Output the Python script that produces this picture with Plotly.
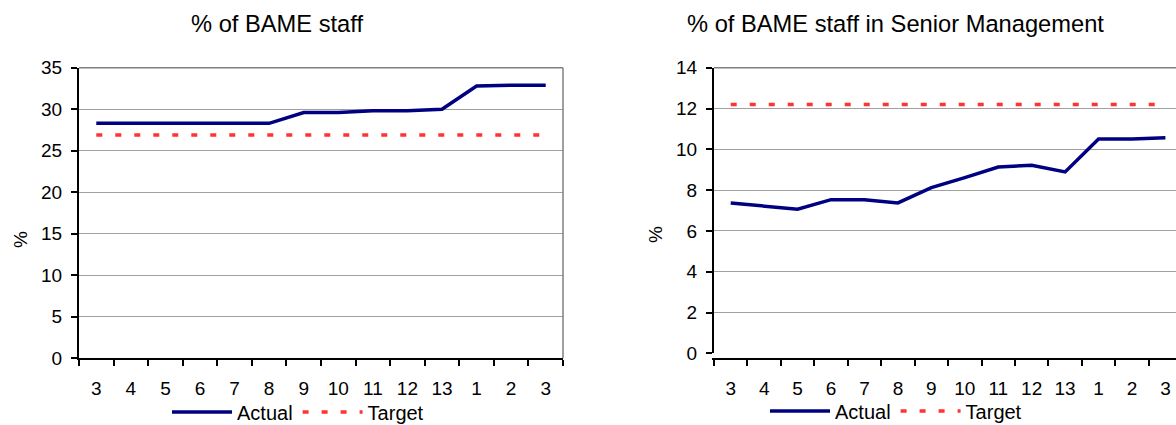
import plotly.graph_objects as go

# ---- data ----
periods = ["3", "4", "5", "6", "7", "8", "9", "10", "11", "12", "13", "1", "2", "3"]
bame_actual = [28.3, 28.3, 28.3, 28.3, 28.3, 28.3, 29.6, 29.6, 29.8, 29.8, 30.0, 32.8, 32.9, 32.9]
bame_target = [26.9] * 14
senior_actual = [7.37, 7.22, 7.06, 7.53, 7.53, 7.37, 8.12, 8.61, 9.13, 9.22, 8.89, 10.5, 10.5, 10.57]
senior_target = [12.2] * 14

title_left = "% of BAME staff"
title_right = "% of BAME staff in Senior Management"

W, H = 1176, 425
FONT = "Liberation Sans, Arial, sans-serif"
NAVY = "#000080"
RED = "#ff3333"

idx = list(range(len(periods)))
bounds = [i - 0.5 for i in range(len(periods) + 1)]

fig = go.Figure()

# left chart
fig.add_trace(go.Scatter(x=idx, y=bame_actual, mode="lines", name="Actual",
                         line=dict(color=NAVY, width=3.5), xaxis="x", yaxis="y",
                         legend="legend"))
fig.add_trace(go.Scatter(x=idx, y=bame_target, mode="lines", name="Target",
                         line=dict(color=RED, width=3.5, dash="6px,13px"),
                         xaxis="x", yaxis="y", legend="legend"))
# right chart
fig.add_trace(go.Scatter(x=idx, y=senior_actual, mode="lines", name="Actual",
                         line=dict(color=NAVY, width=3.5), xaxis="x2", yaxis="y2",
                         legend="legend2"))
fig.add_trace(go.Scatter(x=idx, y=senior_target, mode="lines", name="Target",
                         line=dict(color=RED, width=3.5, dash="6px,13px"),
                         xaxis="x2", yaxis="y2", legend="legend2"))


def xaxis_cfg(domain, rng):
    return dict(
        domain=domain, range=rng, tickmode="array", tickvals=idx, ticktext=periods,
        ticks="", showgrid=False, zeroline=False, showline=True, linecolor="#000",
        linewidth=2, tickfont=dict(size=19, color="#000", family=FONT),
        ticklabelstandoff=12,
        minor=dict(tickmode="array", tickvals=bounds, ticks="outside", ticklen=6,
                   tickwidth=1.5, tickcolor="#000", showgrid=False),
        fixedrange=True,
    )


def yaxis_cfg(domain, anchor, rng, dtick):
    return dict(
        domain=domain, anchor=anchor, range=rng, dtick=dtick, tick0=0,
        ticks="outside", ticklen=6, tickwidth=1.5, tickcolor="#000",
        showgrid=True, gridcolor="#a0a0a0", gridwidth=1, zeroline=False,
        showline=True, linecolor="#000", linewidth=2, ticklabelstandoff=5,
        tickfont=dict(size=19, color="#000", family=FONT), fixedrange=True,
    )


fig.update_layout(
    width=W, height=H, margin=dict(l=0, r=0, t=0, b=0, autoexpand=False),
    paper_bgcolor="white", plot_bgcolor="white",
    font=dict(family=FONT, color="#000", size=19),
    xaxis=xaxis_cfg([79 / W, 563 / W], [-0.5, 13.5]),
    yaxis=yaxis_cfg([1 - 358.3 / H, 1 - 67.7 / H], "x", [0, 35], 5),
    xaxis2=xaxis_cfg([714 / W, 1.0], [-0.5, 13.316]),
    yaxis2=yaxis_cfg([1 - 353.3 / H, 1 - 67.7 / H], "x2", [0, 14], 2),
    legend=dict(orientation="h", x=167 / W, y=1 - 412 / H, xanchor="left", yanchor="middle",
                bgcolor="rgba(0,0,0,0)", font=dict(size=20, family=FONT),
                itemwidth=60, tracegroupgap=0),
    legend2=dict(orientation="h", x=765 / W, y=1 - 411 / H, xanchor="left", yanchor="middle",
                 bgcolor="rgba(0,0,0,0)", font=dict(size=20, family=FONT),
                 itemwidth=60, tracegroupgap=0),
    annotations=[
        dict(text=title_left, x=276.7 / W, y=1 - 24 / H, xref="paper", yref="paper",
             showarrow=False, xanchor="center", yanchor="middle",
             font=dict(size=23.7, family=FONT, color="#000")),
        dict(text=title_right, x=895 / W, y=1 - 24 / H, xref="paper", yref="paper",
             showarrow=False, xanchor="center", yanchor="middle",
             font=dict(size=23.7, family=FONT, color="#000")),
        dict(text="%", x=20 / W, y=1 - 240 / H, xref="paper", yref="paper",
             showarrow=False, textangle=-90, xanchor="center", yanchor="middle",
             font=dict(size=19, family=FONT, color="#000")),
        dict(text="%", x=655 / W, y=1 - 235 / H, xref="paper", yref="paper",
             showarrow=False, textangle=-90, xanchor="center", yanchor="middle",
             font=dict(size=19, family=FONT, color="#000")),
    ],
    shapes=[
        dict(type="line", xref="x domain", yref="y domain", x0=1, x1=1, y0=0, y1=1,
             line=dict(color="#808080", width=1.5)),
        dict(type="line", xref="x domain", yref="y domain", x0=0, x1=1, y0=1, y1=1,
             line=dict(color="#808080", width=1.5)),
        dict(type="line", xref="x2 domain", yref="y2 domain", x0=0, x1=1, y0=1, y1=1,
             line=dict(color="#808080", width=1.5)),
    ],
)

fig.write_html("out.html", config={"displayModeBar": False})
